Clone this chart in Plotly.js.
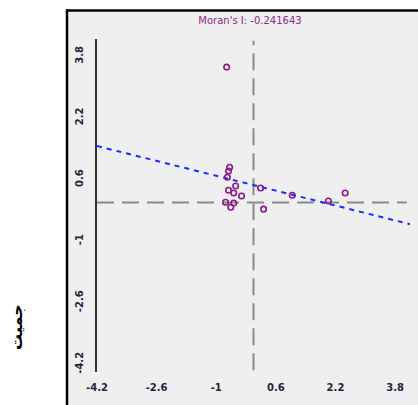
<!DOCTYPE html>
<html>
<head>
<meta charset="utf-8">
<script src="https://cdn.plot.ly/plotly-3.0.1.min.js"></script>
<style>html,body{margin:0;padding:0;background:#fff;}#chart{width:418px;height:405px;}</style>
</head>
<body>
<div id="chart"></div>
<script>
// Data
const pointX = [-0.72, -0.64, -0.67, -0.70, -0.48, -0.67, -0.53, -0.32, -0.75, -0.53, -0.61, 0.19, 0.27, 1.04, 2.01, 2.46];
const pointY = [3.52, 0.92, 0.82, 0.66, 0.43, 0.32, 0.25, 0.17, 0.01, -0.01, -0.12, 0.38, -0.17, 0.19, 0.04, 0.25];
const moranSlope = -0.241643;
const moranIntercept = 0.455;
const tickValues = [-4.2, -2.6, -1, 0.6, 2.2, 3.8];
const tickLabels = ['-4.2', '-2.6', '-1', '0.6', '2.2', '3.8'];
const titleText = "Moran's I: -0.241643";
const yTitleText = 'جميت';

const xRange = [-4.2, 4.2];
const yRange = [-4.4, 4.25];
const lineX = xRange.slice();
const lineY = lineX.map(v => moranIntercept + moranSlope * v);

const traces = [
  {
    x: lineX, y: lineY, mode: 'lines', type: 'scatter',
    line: {color: '#1a2cff', width: 2, dash: '5px,5px'},
    hoverinfo: 'skip'
  },
  {
    x: pointX, y: pointY, mode: 'markers', type: 'scatter',
    marker: {symbol: 'circle-open', size: 5.5, color: '#8b1a8b', line: {width: 1.6, color: '#8b1a8b'}}
  }
];

const W = 418, H = 405, mL = 97, mR = 8, mT = 39, mB = 33;
const pw = W - mL - mR, ph = H - mT - mB;
const px = v => (v - mL) / pw;
const py = v => (H - mB - v) / ph;

const layout = {
  width: W, height: H,
  margin: {l: mL, r: mR, t: mT, b: mB, pad: 0},
  paper_bgcolor: '#ffffff',
  plot_bgcolor: 'rgba(0,0,0,0)',
  showlegend: false,
  title: {
    text: titleText,
    font: {family: 'DejaVu Sans', size: 10, color: '#8a2a8a'},
    xref: 'container', yref: 'container', x: 250 / W, y: 1 - 20 / H,
    xanchor: 'center', yanchor: 'middle'
  },
  xaxis: {
    range: xRange, showgrid: false, zeroline: false, showline: false,
    tickvals: tickValues, ticktext: tickLabels,
    ticks: 'outside', ticklen: 6, tickcolor: 'rgba(0,0,0,0)',
    tickfont: {family: 'DejaVu Sans', size: 10, color: '#2a2040', weight: 'bold'}
  },
  yaxis: {
    range: yRange, showgrid: false, zeroline: false,
    showline: true, linecolor: '#333333', linewidth: 1.8,
    tickvals: tickValues, ticktext: tickLabels, tickangle: -90,
    ticks: 'outside', ticklen: 8, tickcolor: 'rgba(0,0,0,0)',
    tickfont: {family: 'DejaVu Sans', size: 10, color: '#2a2040', weight: 'bold'}
  },
  shapes: [
    {type: 'rect', xref: 'paper', yref: 'paper', x0: px(68), x1: px(420), y0: py(407), y1: py(11),
     fillcolor: '#efefef', line: {width: 0}, layer: 'below'},
    {type: 'line', xref: 'paper', yref: 'paper', x0: px(67), x1: px(67), y0: py(407), y1: py(9.5),
     line: {color: '#000', width: 2.5}},
    {type: 'line', xref: 'paper', yref: 'paper', x0: px(66), x1: px(420), y0: py(10.5), y1: py(10.5),
     line: {color: '#000', width: 2.5}},
    {type: 'line', xref: 'x', yref: 'paper', x0: 0, x1: 0, y0: 0.005, y1: 0.995,
     line: {color: '#8a8a8a', width: 2, dash: '17px,8px'}, layer: 'below'},
    {type: 'line', xref: 'paper', yref: 'y', x0: 0, x1: 0.99, y0: 0, y1: 0,
     line: {color: '#8a8a8a', width: 2, dash: '17px,8px'}, layer: 'below'}
  ],
  annotations: [
    {text: '<b>' + yTitleText + '</b>', xref: 'paper', yref: 'paper', x: px(16), y: py(327),
     showarrow: false, textangle: -90, xanchor: 'center', yanchor: 'middle',
     font: {family: 'DejaVu Sans', size: 16, color: '#000'}}
  ]
};

Plotly.newPlot('chart', traces, layout, {displayModeBar: false, staticPlot: true});
</script>
</body>
</html>
